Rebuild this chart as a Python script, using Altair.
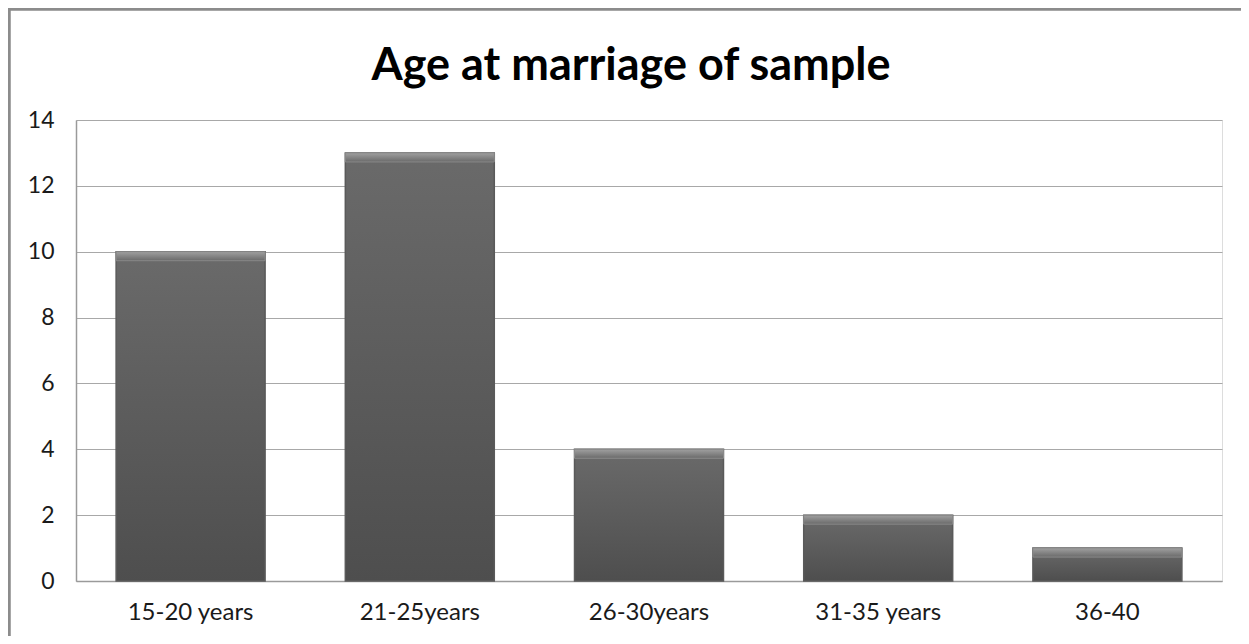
import altair as alt
import pandas as pd

categories = ["15-20 years", "21-25years", "26-30years", "31-35 years", "36-40"]
counts = [10, 13, 4, 2, 1]
y_ticks = [0, 2, 4, 6, 8, 10, 12, 14]
title_text = "Age at marriage of sample"

df = pd.DataFrame({"cat": categories, "count": counts})

W, H = 1146, 461

xenc = alt.X("cat:N", sort=categories, title=None,
             scale=alt.Scale(paddingInner=0.35, paddingOuter=0.175),
             axis=alt.Axis(labelAngle=0, labelFontSize=24, labelColor="#1a1a1a",
                           labelFont="Lato", labelPadding=19, ticks=False,
                           domainColor="#9a9a9a", domainWidth=1.5, grid=False))
yenc = alt.Y("count:Q", title=None,
             scale=alt.Scale(domain=[0, 14], nice=False),
             axis=alt.Axis(values=y_ticks, labelFontSize=23, labelColor="#1a1a1a",
                           labelFont="Lato", labelPadding=22, ticks=False,
                           domainColor="#9a9a9a", domainWidth=1.5,
                           gridColor="#a8a8a8", gridWidth=1.2))

base = alt.Chart(df)

bars = base.mark_bar(
    fill=alt.Gradient(gradient="linear", x1=0, x2=0, y1=0, y2=1,
                      stops=[alt.GradientStop(color="#6a6a6a", offset=0),
                             alt.GradientStop(color="#4e4e4e", offset=1)]),
    stroke="#5a5a5a", strokeWidth=1.5,
).encode(x=xenc, y=yenc)

bevel = base.mark_bar(
    fill=alt.Gradient(gradient="linear", x1=0, x2=0, y1=0, y2=1,
                      stops=[alt.GradientStop(color="#a0a0a0", offset=0),
                             alt.GradientStop(color="#6a6a6a", offset=1)]),
    y2Offset=9, stroke="#8a8a8a", strokeWidth=1,
).encode(x=xenc, y=yenc, y2=alt.Y2("count:Q"))

title = alt.Chart(pd.DataFrame({"t": [title_text]})).mark_text(
    font="Lato", fontSize=45, fontWeight="bold", color="#000000",
    align="center", baseline="alphabetic", clip=False,
).encode(x=alt.value(W / 2 - 18), y=alt.value(-40), text="t:N")

frame_top = alt.Chart(df).mark_rule(color="#8c8c8c", strokeWidth=2.5, clip=False).encode(
    x=alt.value(-68), x2=alt.value(W + 20), y=alt.value(-111))
frame_left = alt.Chart(df).mark_rule(color="#8c8c8c", strokeWidth=2.5, clip=False).encode(
    x=alt.value(-67), y=alt.value(-112), y2=alt.value(H + 60))

chart = alt.layer(bars, bevel, title, frame_top, frame_left).properties(
    width=W, height=H,
    autosize=alt.AutoSizeParams(type="none"),
    padding={"left": 68, "top": 112, "right": 19, "bottom": 55},
).configure_view(stroke=None).configure(background="white")

chart.save("out.html", embed_options={"renderer": "svg", "actions": False})
